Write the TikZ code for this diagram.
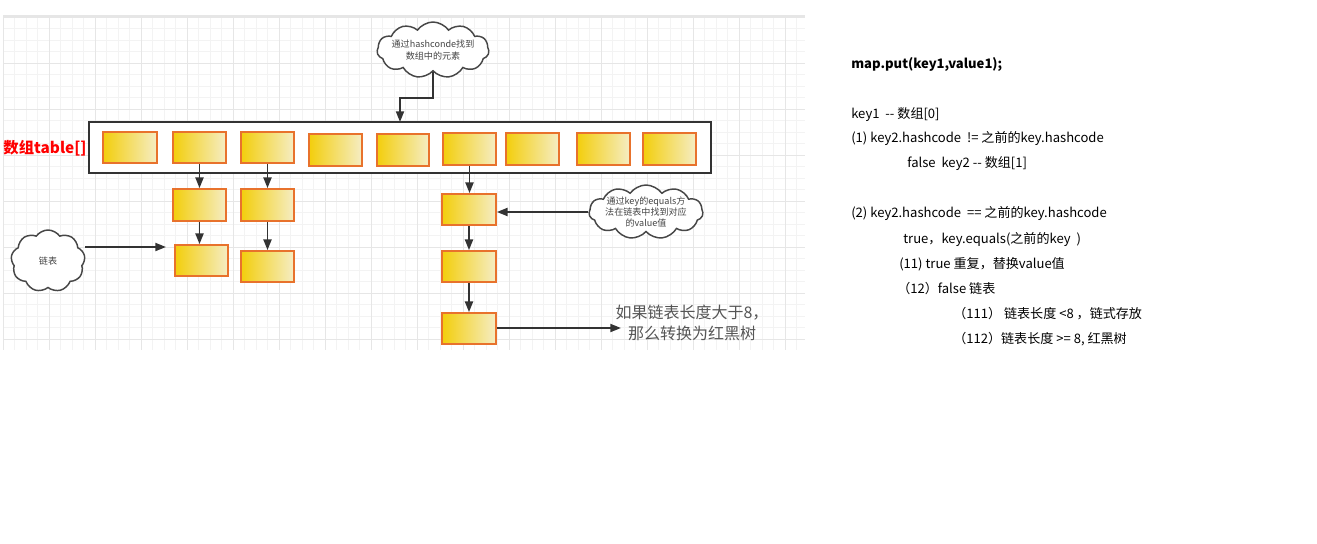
\documentclass[tikz,border=0pt]{standalone}
\usepackage{fontspec}
\setmainfont{Noto Sans CJK SC}
\newfontfamily\cjk{Noto Sans CJK SC}
\usetikzlibrary{shapes.symbols,arrows.meta,fit}
\definecolor{gridminor}{HTML}{F3F3F3}
\definecolor{gridmajor}{HTML}{E6E6E6}
\definecolor{cellborder}{HTML}{E8722C}
\definecolor{cellleft}{HTML}{F3CE0C}
\definecolor{cellright}{HTML}{F5EDC4}
\definecolor{arrowc}{HTML}{333333}
\definecolor{cloudtext}{HTML}{444444}
\definecolor{noteText}{HTML}{555555}
\tikzset{
  cellbox/.style={draw=cellborder, line width=1.3pt, left color=cellleft, right color=cellright, inner sep=0pt},
  tablebox/.style={draw=arrowc, line width=1.2pt, fill=white, inner sep=0pt},
  cloudbox/.style={cloud, cloud puffs=11, cloud puff arc=110, cloud ignores aspect, draw=arrowc!90, line width=1.1pt, fill=white, inner sep=0pt},
  cloudtxt/.style={align=center, font=\cjk\fontsize{6.8}{8.4}\selectfont, text=cloudtext},
  arr/.style={draw=arrowc, line width=1.4pt, -{Triangle[length=8pt,width=6pt]}},
  rtext/.style={anchor=west, font=\cjk\fontsize{9.8}{11}\selectfont, inner sep=0pt, text=black},
}
\begin{document}
\begin{tikzpicture}[x=0.75pt,y=-0.75pt]
\useasboundingbox (0,0) rectangle (1317,543);
\fill[white] (0,0) rectangle (1317,543);
% grid background
\foreach \i in {0,...,69} {
  \draw[gridminor, line width=0.6pt] ({3+11.5*\i},17) -- ({3+11.5*\i},350);
}
\foreach \j in {0,...,28} {
  \draw[gridminor, line width=0.6pt] (3,{17+11.5*\j}) -- (805,{17+11.5*\j});
}
\foreach \i in {0,...,17} {
  \draw[gridmajor, line width=0.6pt] ({3+46*\i},17) -- ({3+46*\i},350);
}
\foreach \j in {0,...,7} {
  \draw[gridmajor, line width=0.6pt] (3,{17+46*\j}) -- (805,{17+46*\j});
}
\draw[gridmajor, line width=1.2pt] (3,16) -- (805,16);

% table
\node[tablebox, fit={(89,122) (711,173)}] (tbl) {};
\node[font=\cjk\bfseries\fontsize{11.5}{13}\selectfont, text=red, inner sep=0pt] (lbl) at (45,148) {数组table[]};

% cells
\node[cellbox, fit={(103,132) (157,163)}] (c1) {};
\node[cellbox, fit={(173,132) (226,163)}] (c2) {};
\node[cellbox, fit={(241,132) (294,163)}] (c3) {};
\node[cellbox, fit={(309,134) (362,166)}] (c4) {};
\node[cellbox, fit={(377,134) (429,166)}] (c5) {};
\node[cellbox, fit={(443,133) (496,165)}] (c6) {};
\node[cellbox, fit={(506,133) (559,165)}] (c7) {};
\node[cellbox, fit={(577,133) (630,165)}] (c8) {};
\node[cellbox, fit={(643,133) (696,165)}] (c9) {};

% chains
\node[cellbox, fit={(173,189) (226,221)}] (b11) {};
\node[cellbox, fit={(175,245) (228,276)}] (b12) {};
\node[cellbox, fit={(241,189) (294,221)}] (b21) {};
\node[cellbox, fit={(241,251) (294,282)}] (b22) {};
\node[cellbox, fit={(442,194) (496,225)}] (b31) {};
\node[cellbox, fit={(442,251) (496,282)}] (b32) {};
\node[cellbox, fit={(442,313) (496,344)}] (b33) {};

% clouds
\node[cloudbox, minimum width=112*0.75pt, minimum height=56*0.75pt,
  label={[cloudtxt]center:通过hashconde找到\\数组中的元素}] (cl1) at (433,50) {};
\node[cloudbox, minimum width=114*0.75pt, minimum height=54*0.75pt,
  label={[cloudtxt]center:通过key的equals方\\法在链表中找到对应\\的value值}] (cl2) at (646,212) {};
\node[cloudbox, cloud puffs=9, minimum width=74*0.75pt, minimum height=62*0.75pt,
  label={[cloudtxt]center:链表}] (cl3) at (48,261) {};

% coordinates
\coordinate (tin) at (400,122);
\coordinate (lend) at (166,247);
\coordinate (rend) at (621,328);

% connectors
\draw[arr] (cl1.south) -- (cl1.south |- 0,98) -| (tin);
\draw[arr] (c2.south) -- (b11.north);
\draw[arr] (b11.south) -- (b11.south |- b12.north);
\draw[arr] (c3.south) -- (b21.north);
\draw[arr] (b21.south) -- (b22.north);
\draw[arr] (c6.south) -- (c6.south |- b31.north);
\draw[arr] (b31.south) -- (b32.north);
\draw[arr] (b32.south) -- (b33.north);
\draw[arr] (cl2.west) -- (cl2.west -| b31.east);
\draw[arr] (cl3.east |- lend) -- (lend);
\draw[arr] (b33.east |- rend) -- (rend);

% note
\node[font=\cjk\fontsize{12}{16}\selectfont, text=noteText, align=center, inner sep=0pt] (note) at (692,323) {如果链表长度大于8，\\那么转换为红黑树};

% right text
\node[rtext, font=\cjk\bfseries\fontsize{9.8}{11}\selectfont] (t0) at (851,64) {map.put(key1,value1);};
\node[rtext] (t1) at (851,115) {key1\ \ -- 数组[0]};
\node[rtext] (t2) at (851,139) {(1) key2.hashcode\ \ != 之前的key.hashcode};
\node[rtext] (t3) at (907,164) {false\ \ key2 -- 数组[1]};
\node[rtext] (t4) at (851,214) {(2) key2.hashcode\ \ == 之前的key.hashcode};
\node[rtext] (t5) at (903,240) {true，key.equals(之前的key\ \ )};
\node[rtext] (t6) at (899,264) {(11) true 重复，替换value值};
\node[rtext] (t7) at (897,289) {（12）false 链表};
\node[rtext] (t8) at (953,314) {（111）\ 链表长度 <8 ，链式存放};
\node[rtext] (t9) at (953,339) {（112）链表长度 >= 8, 红黑树};
\end{tikzpicture}
\end{document}
